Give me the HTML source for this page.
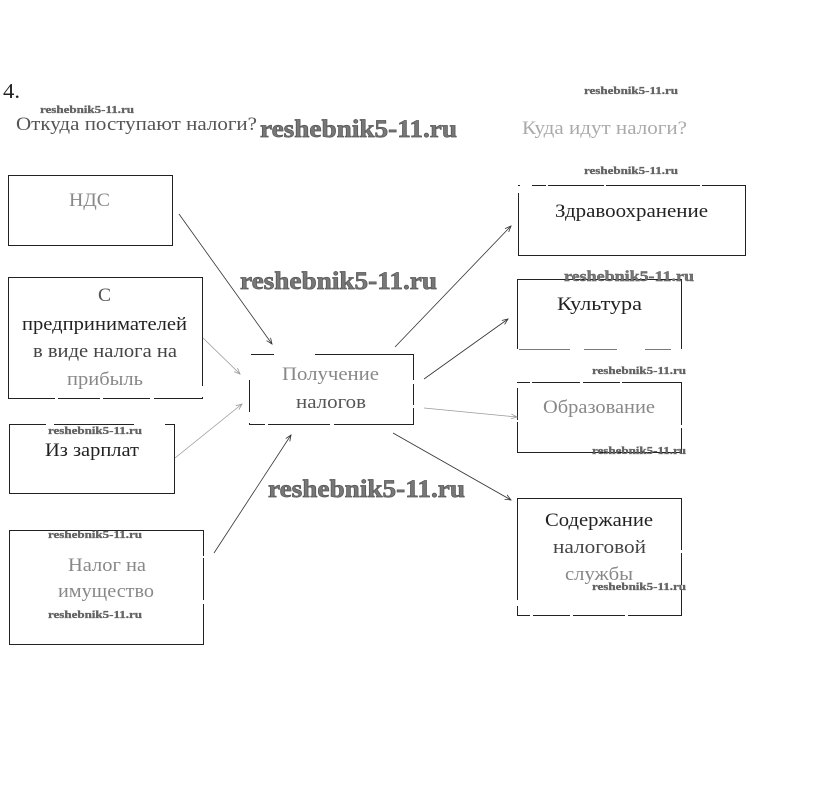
<!DOCTYPE html>
<html lang="ru">
<head>
<meta charset="utf-8">
<title>Налоги</title>
<style>
html,body{margin:0;padding:0;background:#fff;width:823px;height:787px;overflow:hidden}
svg{display:block;position:absolute;left:0;top:0}
.b{fill:none;stroke:#222;stroke-width:1;shape-rendering:crispEdges}
.g{stroke:#fff;stroke-width:3;shape-rendering:crispEdges;fill:none}
.a{stroke:#333;stroke-width:.8;fill:none;marker-end:url(#ar)}
.af{stroke:#999;stroke-width:.8;fill:none;marker-end:url(#arf)}
text{font-family:"Liberation Serif","Noto Serif CJK SC",serif;font-size:19px;fill:#222}
.f{fill:#888}
.ff{fill:#aaa}
.w1{font-weight:bold;font-size:25px;fill:#777;stroke:#555;stroke-width:.7}
.w2{font-weight:bold;font-size:15px;fill:#777;stroke:#555;stroke-width:.4}
.w3{font-weight:bold;font-size:11px;fill:#666;stroke:#555;stroke-width:.3}
</style>
</head>
<body>
<svg width="823" height="787" viewBox="0 0 823 787" xmlns="http://www.w3.org/2000/svg">
<defs>
<marker id="ar" markerUnits="userSpaceOnUse" markerWidth="8" markerHeight="8" refX="6" refY="3" orient="auto"><path d="M0 0.5L6 3L0 5.5" fill="none" stroke="#333" stroke-width=".8"/></marker>
<marker id="arf" markerUnits="userSpaceOnUse" markerWidth="8" markerHeight="8" refX="6" refY="3" orient="auto"><path d="M0 0.5L6 3L0 5.5" fill="none" stroke="#999" stroke-width=".8"/></marker>
</defs>

<!-- boxes -->
<rect class="b" x="8.5" y="175.5" width="164" height="70"/>
<rect class="b" x="8.5" y="277.5" width="194" height="121"/>
<rect class="b" x="9.5" y="424.5" width="165" height="69"/>
<rect class="b" x="9.5" y="530.5" width="194" height="114"/>
<rect class="b" x="249.5" y="354.5" width="164" height="70"/>
<rect class="b" x="518.5" y="185.5" width="227" height="70"/>
<path class="b" d="M517.5 349V279.5H681.5V349"/>
<path class="b" stroke-opacity=".6" d="M519 349.5H570M584 349.5H617M645 349.5H671"/>
<rect class="b" x="517.5" y="382.5" width="164" height="70"/>
<rect class="b" x="517.5" y="498.5" width="164" height="117"/>

<!-- border gaps -->
<path class="g" d="M46 424.5H54M134 424.5H165"/>
<path class="g" d="M202.5 386V397M55 398.5H58M100 398.5H103M150 398.5H154"/>
<path class="g" d="M274 354.5H315M249.5 354V380M249.5 412V423M265 424.5H268M330 424.5H334M413.5 380V384M413.5 405V408"/>
<path class="g" d="M203.5 556V558M203.5 600V604"/>
<path class="g" d="M520 185.5H532M546 185.5H548M604 185.5H606M700 185.5H702M518.5 186V193"/>
<path class="g" d="M517.5 383V388M530 382.5H532M580 382.5H583M620 382.5H622M517.5 420V422M681.5 425V428"/>
<path class="g" d="M517.5 600V606M681.5 550V553M681.5 585V589M530 615.5H533M570 615.5H573M625 615.5H628"/>

<!-- arrows -->
<path class="a" d="M179 214L272 344"/>
<path class="af" d="M203 338L240 374"/>
<path class="af" d="M175 458L242 404"/>
<path class="a" d="M214 553L291 435"/>
<path class="a" d="M395 347L511 226"/>
<path class="a" d="M424 379L508 319"/>
<path class="af" d="M424 408L517 417"/>
<path class="a" d="M393 433L511 500"/>

<!-- text -->
<text x="3" y="98" style="font-size:21px" textLength="17" lengthAdjust="spacingAndGlyphs">4.</text>
<text x="16" y="130" textLength="241" lengthAdjust="spacingAndGlyphs" style="fill:#555">Откуда поступают налоги?</text>
<text class="ff" x="522" y="134" textLength="165" lengthAdjust="spacingAndGlyphs">Куда идут налоги?</text>
<text class="f" x="69" y="206" textLength="41" lengthAdjust="spacingAndGlyphs">НДС</text>
<text style="fill:#555" x="98" y="301" textLength="13" lengthAdjust="spacingAndGlyphs">С</text>
<text x="22" y="330" textLength="165" lengthAdjust="spacingAndGlyphs">предпринимателей</text>
<text x="33" y="357" textLength="144" lengthAdjust="spacingAndGlyphs" style="fill:#444">в виде налога на</text>
<text class="f" x="67" y="385" textLength="76" lengthAdjust="spacingAndGlyphs">прибыль</text>
<text x="45" y="456" textLength="94" lengthAdjust="spacingAndGlyphs">Из зарплат</text>
<text class="f" x="68" y="571" textLength="78" lengthAdjust="spacingAndGlyphs">Налог на</text>
<text class="f" x="58" y="597" textLength="96" lengthAdjust="spacingAndGlyphs">имущество</text>
<text class="f" x="282" y="380" textLength="97" lengthAdjust="spacingAndGlyphs">Получение</text>
<text style="fill:#555" x="296" y="408" textLength="70" lengthAdjust="spacingAndGlyphs">налогов</text>
<text x="555" y="217" textLength="153" lengthAdjust="spacingAndGlyphs">Здравоохранение</text>
<text x="557" y="310" textLength="85" lengthAdjust="spacingAndGlyphs">Культура</text>
<text class="f" x="543" y="413" textLength="112" lengthAdjust="spacingAndGlyphs">Образование</text>
<text x="545" y="526" textLength="108" lengthAdjust="spacingAndGlyphs">Содержание</text>
<text style="fill:#444" x="553" y="553" textLength="93" lengthAdjust="spacingAndGlyphs">налоговой</text>
<text class="f" x="565" y="580" textLength="68" lengthAdjust="spacingAndGlyphs">службы</text>

<!-- watermarks -->
<text class="w1" x="260" y="137" textLength="197" lengthAdjust="spacingAndGlyphs">reshebnik5-11.ru</text>
<text class="w1" x="240" y="289" textLength="197" lengthAdjust="spacingAndGlyphs">reshebnik5-11.ru</text>
<text class="w1" x="268" y="497" textLength="197" lengthAdjust="spacingAndGlyphs">reshebnik5-11.ru</text>
<text class="w2" x="564" y="281" textLength="130" lengthAdjust="spacingAndGlyphs">reshebnik5-11.ru</text>
<text class="w3" x="40" y="113" textLength="94" lengthAdjust="spacingAndGlyphs">reshebnik5-11.ru</text>
<text class="w3" x="584" y="94" textLength="94" lengthAdjust="spacingAndGlyphs">reshebnik5-11.ru</text>
<text class="w3" x="584" y="174" textLength="94" lengthAdjust="spacingAndGlyphs">reshebnik5-11.ru</text>
<text class="w3" x="592" y="374" textLength="94" lengthAdjust="spacingAndGlyphs">reshebnik5-11.ru</text>
<text class="w3" x="592" y="454" textLength="94" lengthAdjust="spacingAndGlyphs">reshebnik5-11.ru</text>
<text class="w3" x="592" y="590" textLength="94" lengthAdjust="spacingAndGlyphs">reshebnik5-11.ru</text>
<text class="w3" x="48" y="434" textLength="94" lengthAdjust="spacingAndGlyphs">reshebnik5-11.ru</text>
<text class="w3" x="48" y="538" textLength="94" lengthAdjust="spacingAndGlyphs">reshebnik5-11.ru</text>
<text class="w3" x="48" y="618" textLength="94" lengthAdjust="spacingAndGlyphs">reshebnik5-11.ru</text>
</svg>
</body>
</html>
